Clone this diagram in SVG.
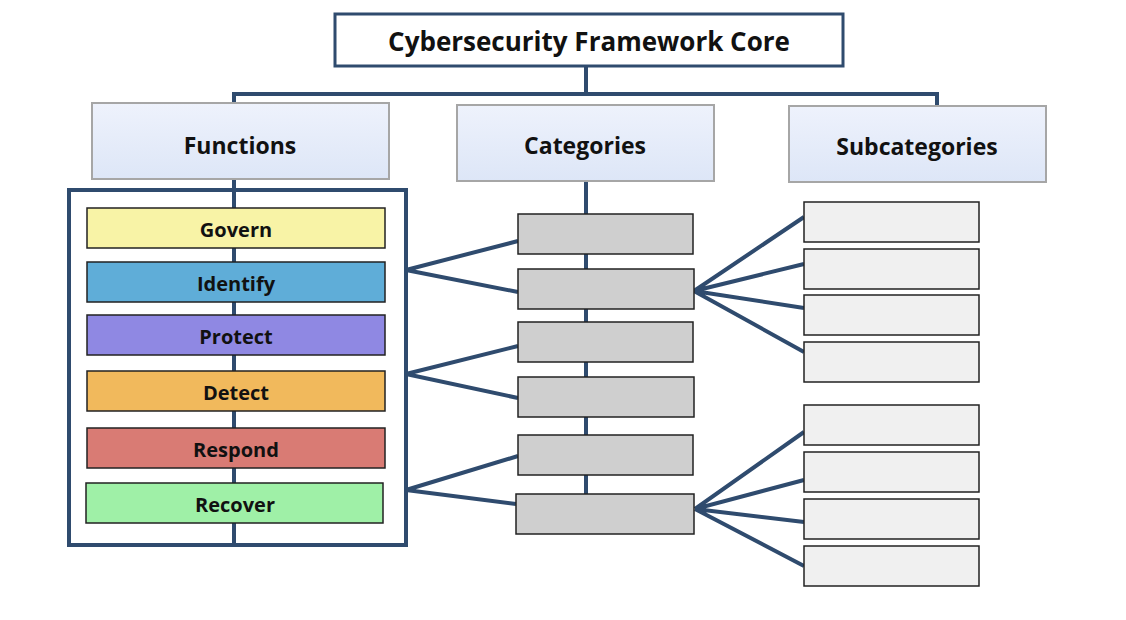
<svg xmlns="http://www.w3.org/2000/svg" width="1126" height="620" viewBox="0 0 1126 620">
<style>
.ln{stroke:#2f4b6e;stroke-width:4;fill:none}
.hd{fill:url(#hg);stroke:#a6a6a6;stroke-width:2}
.t{font-family:"Open Sans","Liberation Sans",sans-serif;font-weight:bold;fill:#111;text-anchor:middle;dominant-baseline:central}
.fn{stroke:#222;stroke-width:1.5}
.cat{fill:#cfcfcf;stroke:#222;stroke-width:1.5}
.sub{fill:#f0f0f0;stroke:#222;stroke-width:1.5}
</style>
<defs><linearGradient id="hg" x1="0" y1="0" x2="0" y2="1"><stop offset="0" stop-color="#eef2fc"/><stop offset="1" stop-color="#dde6f7"/></linearGradient></defs>
<g id="connectors" class="ln">
<path d="M586 66V94M234 104V94H937V106M234 179V545M586 181V495"/>
<path d="M406 270L518 241M406 270L518 292M406 374L518 346M406 374L518 398M406 490L518 456M406 490L516 504"/>
<path d="M694 291L804 217M694 291L804 264M694 291L804 308M694 291L804 352"/>
<path d="M695 509L804 432M695 509L804 480M695 509L804 522M695 509L804 566"/>
</g>
<g id="title"><rect x="335" y="14" width="508" height="52" fill="#fff" stroke="#2f4b6e" stroke-width="3"/><text class="t" x="589" y="41" font-size="26">Cybersecurity Framework Core</text></g>
<g id="functions"><rect class="hd" x="92" y="103" width="297" height="76"/><text class="t" x="240" y="145" font-size="23">Functions</text></g>
<g id="categories"><rect class="hd" x="457" y="105" width="257" height="76"/><text class="t" x="585" y="145" font-size="23">Categories</text></g>
<g id="subcategories"><rect class="hd" x="789" y="106" width="257" height="76"/><text class="t" x="917" y="146" font-size="23">Subcategories</text></g>
<g id="frame"><rect x="69" y="190" width="337" height="355" fill="none" stroke="#2f4b6e" stroke-width="4"/></g>
<g id="govern"><rect class="fn" x="87" y="208" width="298" height="40" fill="#f8f3a6"/><text class="t" x="236" y="229" font-size="20">Govern</text></g>
<g id="identify"><rect class="fn" x="87" y="262" width="298" height="40" fill="#5fadd8"/><text class="t" x="236" y="283" font-size="20">Identify</text></g>
<g id="protect"><rect class="fn" x="87" y="315" width="298" height="40" fill="#8f88e3"/><text class="t" x="236" y="336" font-size="20">Protect</text></g>
<g id="detect"><rect class="fn" x="87" y="371" width="298" height="40" fill="#f1b95c"/><text class="t" x="236" y="392" font-size="20">Detect</text></g>
<g id="respond"><rect class="fn" x="87" y="428" width="298" height="40" fill="#d97b74"/><text class="t" x="236" y="449" font-size="20">Respond</text></g>
<g id="recover"><rect class="fn" x="86" y="483" width="297" height="40" fill="#9ff0a7"/><text class="t" x="235" y="504" font-size="20">Recover</text></g>
<g id="cat1"><rect class="cat" x="518" y="214" width="175" height="40"/></g>
<g id="cat2"><rect class="cat" x="518" y="269" width="176" height="40"/></g>
<g id="cat3"><rect class="cat" x="518" y="322" width="175" height="40"/></g>
<g id="cat4"><rect class="cat" x="518" y="377" width="176" height="40"/></g>
<g id="cat5"><rect class="cat" x="518" y="435" width="175" height="40"/></g>
<g id="cat6"><rect class="cat" x="516" y="494" width="178" height="40"/></g>
<g id="sub1"><rect class="sub" x="804" y="202" width="175" height="40"/></g>
<g id="sub2"><rect class="sub" x="804" y="249" width="175" height="40"/></g>
<g id="sub3"><rect class="sub" x="804" y="295" width="175" height="40"/></g>
<g id="sub4"><rect class="sub" x="804" y="342" width="175" height="40"/></g>
<g id="sub5"><rect class="sub" x="804" y="405" width="175" height="40"/></g>
<g id="sub6"><rect class="sub" x="804" y="452" width="175" height="40"/></g>
<g id="sub7"><rect class="sub" x="804" y="499" width="175" height="40"/></g>
<g id="sub8"><rect class="sub" x="804" y="546" width="175" height="40"/></g>
</svg>
